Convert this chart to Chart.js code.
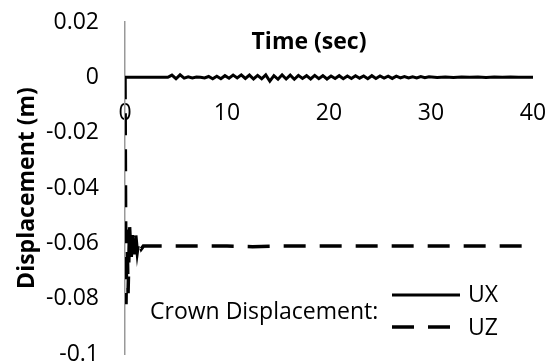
<!DOCTYPE html>
<html>
<head>
<meta charset="utf-8">
<script src="https://cdn.jsdelivr.net/npm/chart.js@4"></script>
<style>
  html, body { margin: 0; padding: 0; background: #fff; }
</style>
</head>
<body>
<canvas id="plot" width="553" height="364"></canvas>
<script>
// Crown displacement time histories
const uxTime = [0, 4.2, 4.6, 5.0, 5.4, 5.8, 6.2, 6.6, 7.0, 7.4, 7.8, 8.2, 8.6, 9.0, 9.4, 9.8,
  10.2, 10.6, 11.0, 11.4, 11.8, 12.2, 12.6, 13.0, 13.4, 13.8, 14.2, 14.6, 15.0, 15.4, 15.8,
  16.2, 16.6, 17.0, 17.4, 17.8, 18.2, 18.6, 19.0, 19.4, 19.8, 20.2, 20.6, 21.0, 21.4, 21.8,
  22.2, 22.6, 23.0, 23.4, 23.8, 24.2, 24.6, 25.0, 25.4, 25.8, 26.2, 26.6, 27.0, 27.4, 27.8,
  28.2, 28.6, 29.0, 29.4, 29.8, 30.6, 31.4, 32.2, 33.0, 33.8, 34.6, 35.4, 36.2, 37.0, 37.8,
  38.6, 40];
const uxValue = [0, 0, 0.0008, -0.0005, 0.0009, -0.0003, 0.0002, -0.0002, 0.0001, 0.0, -0.0002,
  0.0003, -0.0005, 0.0004, -0.0005, 0.0006, -0.0003, 0.0008, -0.0002, 0.0009, -0.0004, 0.0008,
  -0.0006, 0.0007, -0.0005, 0.0009, -0.0014, 0.0006, -0.0007, 0.0009, -0.0006, 0.0008, -0.0007,
  0.0007, -0.0004, 0.0006, -0.0006, 0.0007, -0.0005, 0.0006, -0.0006, 0.0005, -0.0004, 0.0006,
  -0.0005, 0.0005, -0.0004, 0.0006, -0.0003, 0.0005, -0.0005, 0.0006, -0.0004, 0.0005, -0.0003,
  0.0004, -0.0004, 0.0004, -0.0002, 0.0003, -0.0002, 0.0002, -0.0002, 0.0003, -0.0001, 0.0002,
  -0.0001, 0.0001, -0.0001, 0.0001, 0.0, 0.0001, -0.0001, 0.0001, 0.0, 0.0001, 0.0, 0.0];

const uzTime = [0, 0.1, 0.2, 0.3, 0.45, 0.6, 0.75, 0.9, 1.05, 1.2, 1.35, 1.6, 1.8,
  5, 10, 12.5, 15, 20, 25, 30, 35, 40];
const uzValue = [0, -0.082, -0.055, -0.078, -0.054, -0.066, -0.055, -0.064, -0.057, -0.063,
  -0.059, -0.062, -0.061, -0.061, -0.061, -0.0612, -0.061, -0.061, -0.061, -0.061, -0.061,
  -0.061];

const seriesNames = ['UX', 'UZ'];
const xTicks = [0, 10, 20, 30, 40];
const yTicks = [0.02, 0, -0.02, -0.04, -0.06, -0.08, -0.1];
const yLabels = ['0.02', '0', '-0.02', '-0.04', '-0.06', '-0.08', '-0.1'];

const FONT = '"Open Sans", sans-serif';

const pts = (t, v) => t.map((x, i) => ({ x: x, y: v[i] }));

// title above the curves and the in-plot legend
const extras = {
  id: 'extras',
  afterDraw(chart) {
    const ctx = chart.ctx;
    const ds = chart.data.datasets;
    ctx.save();
    ctx.fillStyle = '#000';
    ctx.font = 'bold 23px ' + FONT;
    ctx.textAlign = 'center';
    ctx.textBaseline = 'middle';
    ctx.fillText('Time (sec)', 309, 42);

    ctx.font = '23px ' + FONT;
    ctx.textAlign = 'left';
    ctx.fillText('Crown Displacement:', 150, 312);

    ctx.strokeStyle = '#000';
    ctx.lineWidth = ds[0].borderWidth;
    ctx.setLineDash([]);
    ctx.beginPath(); ctx.moveTo(392, 295); ctx.lineTo(460, 295); ctx.stroke();
    ctx.lineWidth = ds[1].borderWidth;
    ctx.setLineDash(ds[1].borderDash);
    ctx.beginPath(); ctx.moveTo(392, 327); ctx.lineTo(452, 327); ctx.stroke();
    ctx.setLineDash([]);
    ctx.fillText(seriesNames[0], 468, 295);
    ctx.fillText(seriesNames[1], 468, 328);
    ctx.restore();
  }
};

new Chart(document.getElementById('plot').getContext('2d'), {
  type: 'line',
  data: {
    datasets: [{
      label: seriesNames[0],
      data: pts(uxTime, uxValue),
      borderColor: '#000',
      borderWidth: 3,
      pointRadius: 0,
      tension: 0
    }, {
      label: seriesNames[1],
      data: pts(uzTime, uzValue),
      borderColor: '#000',
      borderWidth: 3.5,
      borderDash: [22, 14],
      pointRadius: 0,
      tension: 0
    }]
  },
  options: {
    responsive: false,
    animation: false,
    devicePixelRatio: 1,
    layout: { padding: { left: 0, right: 20, top: 22, bottom: 10 } },
    plugins: { legend: { display: false }, tooltip: { enabled: false } },
    scales: {
      x: {
        type: 'linear',
        min: 0, max: 40,
        position: { y: 0 },
        afterBuildTicks: s => { s.ticks = xTicks.map(v => ({ value: v })); },
        grid: { display: false, drawTicks: true, tickLength: 22 },
        border: { display: false },
        ticks: { color: '#000', font: { family: FONT, size: 23 }, padding: 0, maxRotation: 0 }
      },
      y: {
        min: -0.1, max: 0.02,
        afterBuildTicks: s => { s.ticks = yTicks.map(v => ({ value: v })); },
        afterFit: s => { s.width = 125; },
        grid: { display: false, drawTicks: true, tickLength: 26 },
        border: { display: true, color: '#999', width: 1.5 },
        ticks: {
          color: '#000', font: { family: FONT, size: 23, lineHeight: 0.8 }, padding: 0,
          callback: (v, i) => yLabels[i]
        },
        title: {
          display: true, text: 'Displacement (m)', color: '#000',
          font: { family: FONT, size: 23, weight: 'bold' },
          padding: { top: 14, bottom: 0 }
        }
      }
    }
  },
  plugins: [extras]
});
</script>
</body>
</html>
